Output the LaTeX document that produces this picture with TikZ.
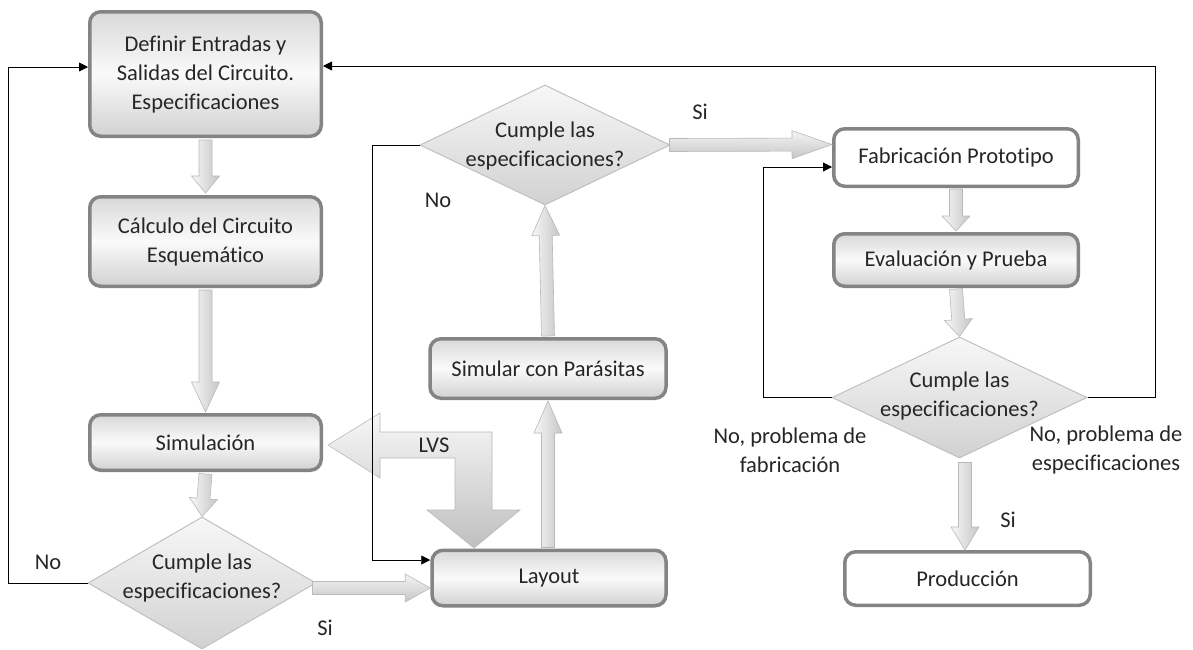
\documentclass[tikz,border=0pt]{standalone}
\usepackage{fontspec}
\setmainfont{Carlito}[Ligatures={NoCommon}]
\usetikzlibrary{shapes.geometric,arrows.meta,calc}
\definecolor{boxline}{RGB}{132,132,132}
\definecolor{dline}{RGB}{192,192,192}
\definecolor{txt}{RGB}{38,38,38}
\newcommand\blockarrow[4]{%
  \coordinate (bS) at #2;
  \coordinate (bT) at #3;
  \coordinate (bB) at ($(bT)!#4!(bS)$);
  \path[barrowst,#1] ($(bS)!6.5pt!90:(bT)$) -- ($(bB)!6.5pt!90:(bT)$) -- ($(bB)!14pt!90:(bT)$) -- (bT)
    -- ($(bB)!14pt!-90:(bT)$) -- ($(bB)!6.5pt!-90:(bT)$) -- ($(bS)!6.5pt!-90:(bT)$) -- cycle;}
\begin{document}
\begin{tikzpicture}[x=1pt,y=-1pt,
  every node/.style={font=\fontsize{22.5}{29}\selectfont, text=txt, align=center},
  box/.style={draw=boxline, line width=3.5pt, rounded corners=11pt, top color=gray!30, bottom color=gray!36, middle color=gray!4, inner sep=0pt},
  wbox/.style={draw=boxline, line width=3.5pt, rounded corners=11pt, fill=white, inner sep=0pt},
  dia/.style={diamond, draw=dline, line width=1pt, top color=gray!6, bottom color=gray!36, inner sep=0pt, aspect=1},
  conn/.style={draw=black, line width=0.9pt, -{Triangle[length=9pt,width=9pt]}},
  barrowst/.style={draw=gray!55, line width=0.6pt},
  vsh/.style={left color=gray!6, right color=gray!45},
  hsh/.style={top color=gray!8, bottom color=gray!45}
]
\fill[white] (0,0) rectangle (1193,649);
\useasboundingbox (0,0) rectangle (1193,649);

% boxes
\node[box, minimum width=231.5pt, minimum height=124.5pt] (def) at (205.5,74) {Definir Entradas y\\Salidas del Circuito.\\Especificaciones};
\node[box, minimum width=231.5pt, minimum height=89.5pt] (calc) at (205.5,241.5) {Cálculo del Circuito\\Esquemático};
\node[box, minimum width=231.5pt, minimum height=55.5pt] (sim) at (205.5,442.5) {Simulación};
\node[box, minimum width=234pt, minimum height=55.5pt] (layout) at (549,578) {Layout};
\node[box, minimum width=236pt, minimum height=59.5pt] (par) at (548,368.5) {Simular con Parásitas};
\node[wbox, minimum width=244.5pt, minimum height=57.5pt] (fab) at (956,157.5) {Fabricación Prototipo};
\node[box, minimum width=244.5pt, minimum height=52.5pt] (eval) at (956,260) {Evaluación y Prueba};
\node[wbox, minimum width=245.5pt, minimum height=53.5pt] (prod) at (967.5,578.5) {Producción};

% diamonds
\node[dia, minimum width=228pt, minimum height=132pt] (d1) at (202,583) {};
\node (d1t) at (202,578) {Cumple las\\especificaciones?};
\node[dia, minimum width=250pt, minimum height=120pt] (d2) at (545,145) {};
\node (d2t) at (545,146) {Cumple las\\especificaciones?};
\node[dia, minimum width=255pt, minimum height=121pt] (d3) at (959.5,397.5) {};
\node (d3t) at (959.5,396) {Cumple las\\especificaciones?};

% block arrows
\blockarrow{vsh}{($(def.south)+(0,2)$)}{($(calc.north)+(0,-2)$)}{17pt}
\blockarrow{vsh}{($(calc.south)+(0,2)$)}{($(sim.north)+(0,-1)$)}{30pt}
\blockarrow{vsh}{($(sim.south)+(0,2)$)}{(d1.north)}{18pt}
\blockarrow{hsh}{($(d1.east)+(-4,5)$)}{($(layout.west)+(0,10)$)}{25pt}
\blockarrow{vsh}{($(layout.north)+(-1,-1)$)}{($(par.south)+(0,1)$)}{32pt}
\blockarrow{vsh}{($(par.north)+(0,-1)$)}{(d2.south)}{30pt}
\blockarrow{hsh}{($(d2.east)+(-1,0)$)}{($(fab.west)+(0,-13)$)}{40pt}
\blockarrow{vsh}{($(fab.south)+(0,1)$)}{($(eval.north)+(0,-1)$)}{15pt}
\blockarrow{vsh}{($(eval.south)+(0,1)$)}{(d3.north)}{17pt}
\blockarrow{vsh}{($(d3.south)+(5.5,4)$)}{($(prod.north)+(-2.5,0)$)}{23pt}

% LVS bent double arrow
\path[barrowst, top color=gray!6, bottom color=gray!50]
  (328,445) -- (380,413) -- (380,432) -- (492,432) -- (492,510) -- (520,510) -- (474,548)
  -- (427,510) -- (455,510) -- (455,458) -- (380,458) -- (380,478) -- cycle;
\node (lvs) at (434,445) {LVS};

% thin connectors
\coordinate (c1) at (8,67);
\coordinate (c2) at (1155,66);
\coordinate (c3) at (763,167);
\coordinate (c4) at (372,560);
\draw[conn] (d1.west) -| (c1) -- (def.west |- c1);
\draw[conn] (d3.east) -| (c2) -- (def.east |- c2);
\draw[conn] (d3.west) -| (c3) -- (fab.west |- c3);
\draw[conn] (d2.west) -| (c4) -- (layout.west |- c4);

% labels
\node (l1) at (48,562) {No};
\node (l2) at (325,628) {Si};
\node (l3) at (700,112) {Si};
\node (l4) at (438,200) {No};
\node (l5) at (790,450) {No, problema de\\fabricación};
\node (l6) at (1106,450) {No, problema de\\especificaciones};
\node (l7) at (1008,520) {Si};
\end{tikzpicture}
\end{document}
